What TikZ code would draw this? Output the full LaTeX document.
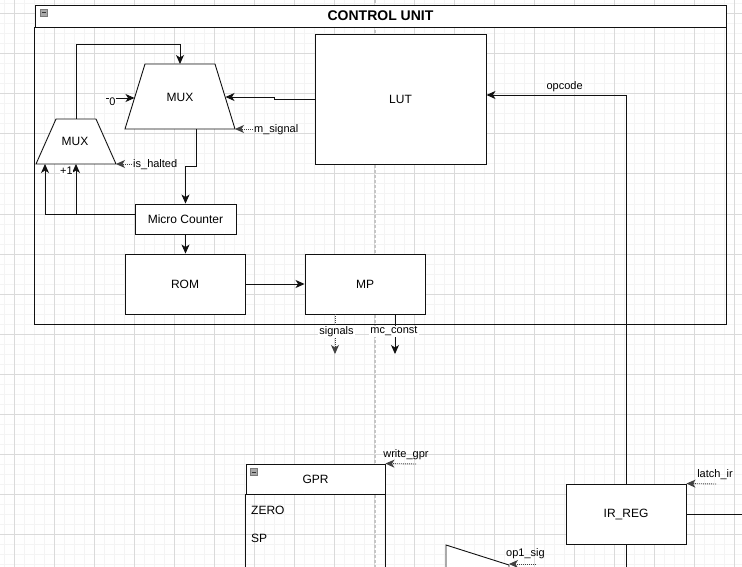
\documentclass[tikz,border=0pt]{standalone}
\usepackage{fontspec}
\setmainfont{Liberation Sans}
\usetikzlibrary{arrows.meta, positioning, calc}
\definecolor{gridmajor}{HTML}{DADADA}
\definecolor{gridminor}{HTML}{F4F4F4}
\definecolor{pagebreak}{HTML}{C6C6C6}
\definecolor{iconfill}{HTML}{A8A8A8}
\definecolor{iconedge}{HTML}{7A7A7A}
\definecolor{ink}{HTML}{111111}

\tikzset{
  >={Stealth[length=9pt, width=8pt, inset=2.5pt]},
  block/.style={draw=ink, fill=white, line width=0.9pt, font=\fontsize{12}{14}\selectfont},
  header/.style={draw=ink, fill=white, line width=0.9pt},
  frame/.style={draw=ink, line width=0.9pt},
  muxshape/.style={draw=ink, fill=white, line width=0.9pt},
  wire/.style={draw=ink, line width=0.9pt, ->},
  sig/.style={draw=ink!80, line width=0.9pt, dash pattern=on 1pt off 1pt, ->},
  plain/.style={draw=ink, line width=0.9pt},
  lbl/.style={font=\fontsize{11}{13}\selectfont, inner sep=1pt},
  txt/.style={font=\fontsize{12}{14}\selectfont, inner sep=0pt},
  icon/.style={draw=iconedge, fill=iconfill, minimum size=7pt, inner sep=0pt,
    path picture={\draw[line width=1pt, ink!85]
      ([xshift=1.5pt]path picture bounding box.west) -- ([xshift=-1.5pt]path picture bounding box.east);}}
}

\begin{document}
\begin{tikzpicture}[x=1pt, y=-1pt]
  \clip (0,0) rectangle (742,567);
  % Background grid
  \fill[white] (0,0) rectangle (742,567);
  \foreach \x in {4,14,...,742} \draw[gridminor, line width=1pt] (\x,0) -- (\x,567);
  \foreach \y in {4,14,...,567} \draw[gridminor, line width=1pt] (0,\y) -- (742,\y);
  \foreach \x in {14,54,...,742} \draw[gridmajor, line width=1pt] (\x,0) -- (\x,567);
  \foreach \y in {14,54,...,567} \draw[gridmajor, line width=1pt] (0,\y) -- (742,\y);
  % Page break
  \draw[pagebreak, line width=1.2pt, dash pattern=on 3pt off 2pt] (375,0) -- (375,567);

  % Control unit container
  \node[header, minimum width=691pt, minimum height=22pt,
    font=\bfseries\fontsize{14}{16}\selectfont] (cu) at (380.5,16) {CONTROL UNIT};
  \draw[frame] (cu.south west) rectangle (726,324);
  \node[icon] (cuicon) at (44,12.5) {};

  % Blocks
  \node[block, minimum width=171pt, minimum height=130pt] (lut) at (400.5,99) {LUT};
  \node[block, minimum width=101pt, minimum height=30pt] (ctr) at (185.5,219) {Micro Counter};
  \node[block, minimum width=120pt, minimum height=60pt] (rom) at (185,284) {ROM};
  \node[block, minimum width=120pt, minimum height=60pt] (mp) at (365,284) {MP};
  \node[block, minimum width=120pt, minimum height=60pt] (ir) at (626,514) {IR\_REG};

  % Multiplexers
  \coordinate (muxb-tl) at (145,64);  \coordinate (muxb-tr) at (215,64);
  \coordinate (muxb-br) at (235,129); \coordinate (muxb-bl) at (125,129);
  \draw[muxshape] (muxb-tl) -- (muxb-tr) -- (muxb-br) -- (muxb-bl) -- cycle;
  \node[txt] (muxb) at (180,97.5) {MUX};
  \coordinate (muxb-top) at (180,64);
  \coordinate (muxb-l) at (134.5,98);
  \coordinate (muxb-r) at (225.5,97);
  \coordinate (muxb-out) at (196,129);

  \coordinate (muxs-tl) at (56,119);  \coordinate (muxs-tr) at (96,119);
  \coordinate (muxs-br) at (116,164); \coordinate (muxs-bl) at (36,164);
  \draw[muxshape] (muxs-tl) -- (muxs-tr) -- (muxs-br) -- (muxs-bl) -- cycle;
  \node[txt] (muxs) at (75,141.5) {MUX};
  \coordinate (muxs-out) at (76,119);
  \coordinate (muxs-in1) at (45,164);
  \coordinate (muxs-in2) at (76,164);

  % Control unit wiring
  \draw[wire] (lut.west) -- ++(-40,0) |- (muxb-r);
  \coordinate (zero) at (106,98);
  \draw[wire] (zero) -- (muxb-l);
  \node[lbl, fill=white, inner sep=0.5pt] (zerolbl) at (112.5,101.5) {0};
  \coordinate (msig) at (253,129);
  \draw[sig] (msig) -- (muxb-br);
  \node[lbl, anchor=west, inner sep=0pt] (msiglbl) at (254,130) {m\_signal};
  \coordinate (halt) at (132,164);
  \draw[sig] (halt) -- (muxs-br);
  \node[lbl, anchor=west, inner sep=0pt] (haltlbl) at (133,165) {is\_halted};
  \draw[wire] (muxb-out) -- ++(0,37) -| (ctr.north);
  \draw[wire] (muxs-out) -- ++(0,-75) -| (muxb-top);
  \coordinate (fb) at ([yshift=5pt]ctr.west);
  \draw[wire] (fb) -| (muxs-in1);
  \draw[wire] (muxs-in2 |- fb) -- (muxs-in2);
  \node[lbl, fill=white, inner sep=0.5pt] (plusone) at (66.5,171) {+1};
  \draw[wire] (ctr.south) -- (ctr.south |- rom.north);
  \draw[wire] (rom.east) -- (mp.west);

  % MP outputs
  \coordinate (sigout) at (335,354);
  \draw[sig] (sigout |- mp.south) -- (sigout);
  \coordinate (mcout) at (395,354);
  \draw[wire] (mcout |- mp.south) -- (mcout);
  \node[lbl, fill=white] (siglbl) at (336.5,331.5) {signals};
  \node[lbl, fill=white] (mclbl) at (394,331.5) {mc\_const};

  % GPR
  \node[header, minimum width=139pt, minimum height=30pt, txt] (gpr) at (315.5,479) {GPR};
  \draw[plain] (gpr.south west) -- ++(0,100);
  \draw[plain] (gpr.south east) -- ++(0,100);
  \node[icon] (gpricon) at (253.7,472) {};
  \node[txt, anchor=west] (zeroreg) at (251,510) {ZERO};
  \node[txt, anchor=west] (spreg) at (251,538.5) {SP};
  \coordinate (wgpr) at (416,464);
  \draw[sig] (wgpr) -- (gpr.north east);
  \node[lbl] (wgprlbl) at (406,454.5) {write\_gpr};

  % IR register
  \draw[wire] (ir.north) |- ([yshift=4pt]lut.east)
    node[lbl, pos=0.72, above=2pt] (opclbl) {opcode};
  \draw[plain] (ir.south) -- ++(0,40);
  \draw[plain] (ir.east) -- ++(70,0);
  \coordinate (latch) at (716,484);
  \draw[sig] (latch) -- (ir.north east);
  \node[lbl] (latchlbl) at (715,474.5) {latch\_ir};

  % Operand multiplexer
  \draw[muxshape] (446,545) -- (509,565) -- (509,640) -- (446,660) -- cycle;
  \coordinate (op1) at (536,564);
  \draw[sig] (op1) -- (509,564);
  \node[lbl] (op1lbl) at (525.5,554) {op1\_sig};
\end{tikzpicture}
\end{document}
